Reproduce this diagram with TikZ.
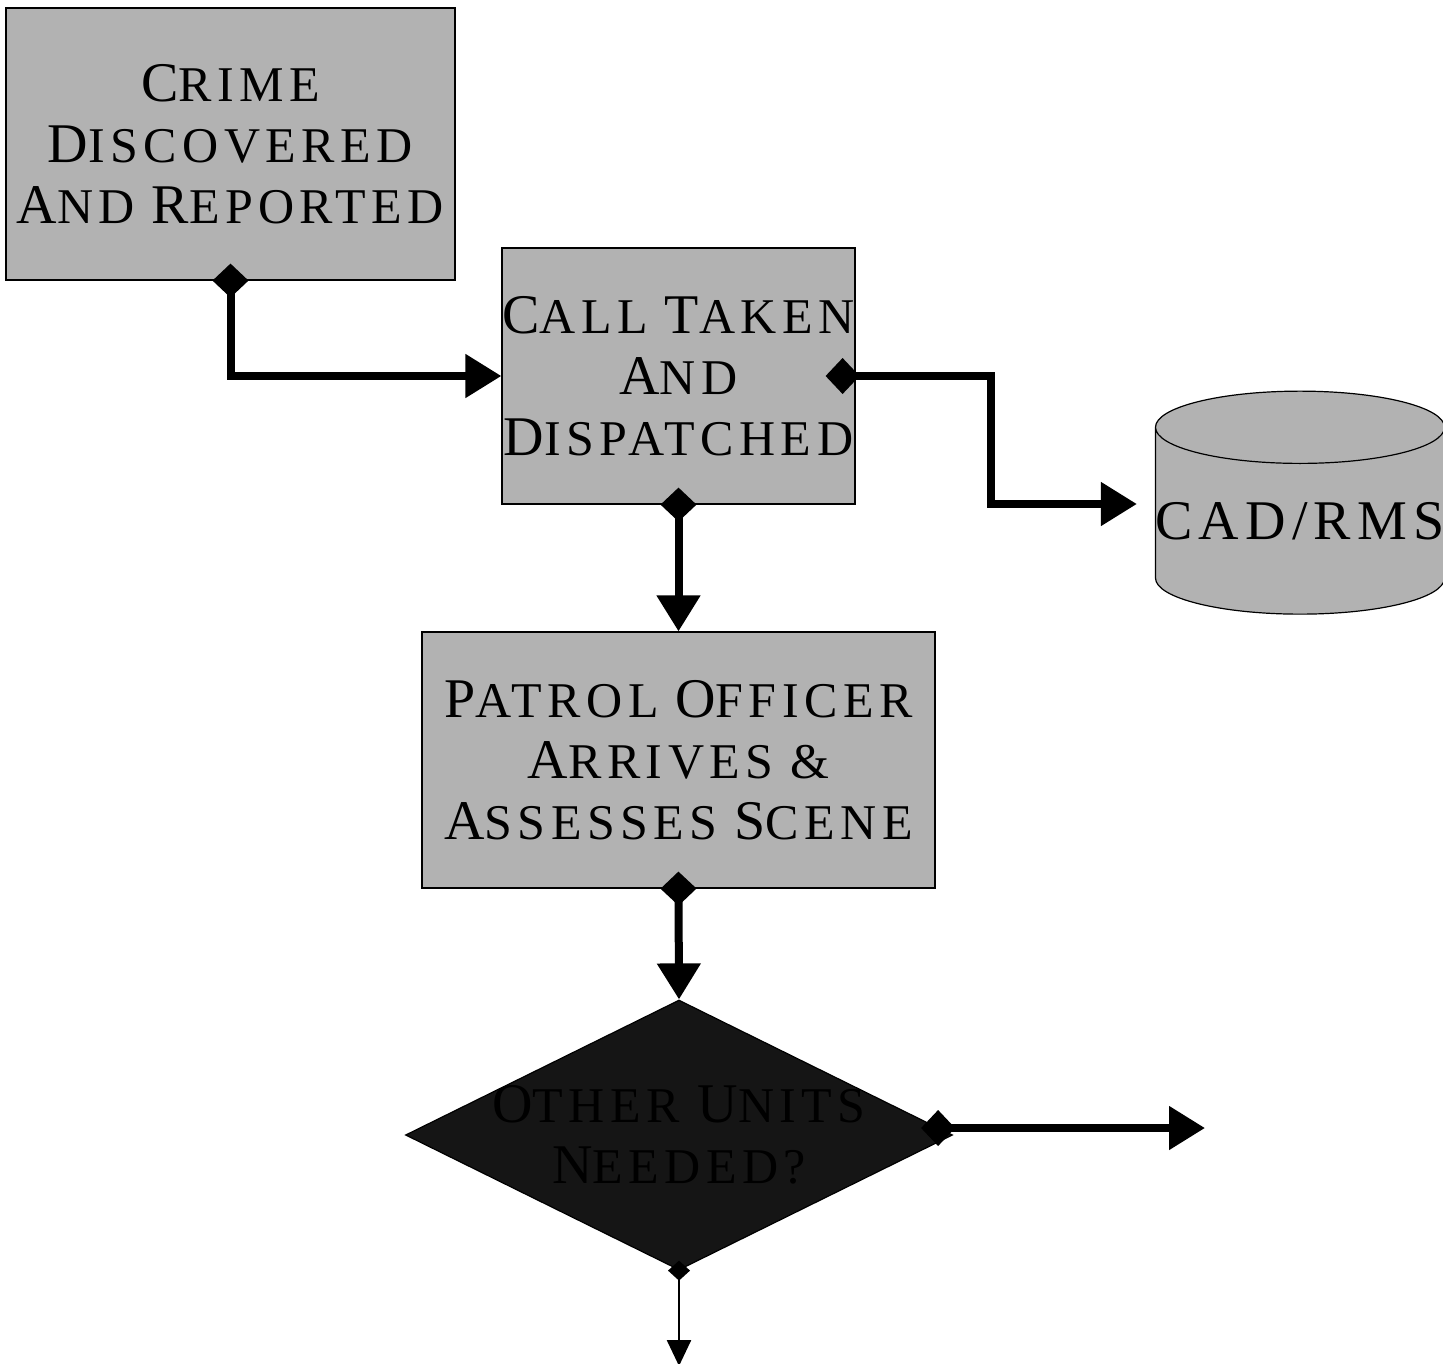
\documentclass[tikz,border=0pt]{standalone}
\usepackage{fontspec}
\newfontfamily\capfont[LetterSpace=11]{Liberation Serif}
\usetikzlibrary{arrows.meta,shapes.geometric}
\definecolor{boxgray}{HTML}{B2B2B2}
\definecolor{decblack}{HTML}{151515}
\newcommand{\ini}[1]{{\fontsize{56}{61}\selectfont #1}}
\newcommand{\boxfont}{\capfont\fontsize{50}{61}\selectfont}
\tikzset{
  stepbox/.style={draw=black,line width=1.2pt,fill=boxgray,align=center,inner sep=0pt,font=\boxfont},
  flow/.style={line width=8pt,{Diamond[length=34pt,width=36pt]}-{Triangle[length=36pt,width=42pt]},shorten <=-17pt},
}
\begin{document}
\begin{tikzpicture}[x=1pt,y=-1pt]
\useasboundingbox (0,0) rectangle (1443,1363);
% steps
\node[stepbox,minimum width=449pt,minimum height=272pt,text width=449pt] (crime) at (230.5,144) {\ini{C}RIME\\\ini{D}ISCOVERED\\\ini{A}ND \ini{R}EPORTED};
\node[stepbox,minimum width=353pt,minimum height=256pt,text width=353pt] (call) at (678.5,376) {\ini{C}ALL \ini{T}AKEN\\\ini{A}ND\\\ini{D}ISPATCHED};
\node[stepbox,minimum width=513pt,minimum height=256pt,text width=513pt] (patrol) at (678.5,760) {\ini{P}ATROL \ini{O}FFICER\\\ini{A}RRIVES \&\\\ini{A}SSESSES \ini{S}CENE};
\node[stepbox,shape=cylinder,shape border rotate=90,aspect=0.25,minimum width=283pt,minimum height=223pt] (cad) at (1300,521) {\ini{CAD/RMS}};
\node[draw=black,line width=1.2pt,fill=decblack,shape=diamond,minimum width=547pt,minimum height=270pt,inner sep=0pt,
  label={[font=\boxfont,align=center,text=black]center:{\ini{O}THER \ini{U}NITS\\\ini{N}EEDED?}}] (units) at (679,1135) {};
\coordinate (more) at (1205,1128);
\coordinate (next) at (679,1366);
% connectors
\draw[flow] (crime.south) |- (call.west);
\draw[flow,shorten <=-30pt,shorten >=18pt] (call.east) -- ++(135,0) |- ([yshift=17pt]cad.west);
\draw[flow] (call.south) -- (patrol.north);
\draw[flow] (patrol.south) -- (units.north);
\draw[flow,shorten <=-32pt] (units.east |- more) -- (more);
\draw[line width=2.5pt,{Diamond[length=20pt,width=22pt]}-{Triangle[length=26pt,width=24pt]},shorten <=-10pt] (units.south) -- (next);
\end{tikzpicture}
\end{document}
